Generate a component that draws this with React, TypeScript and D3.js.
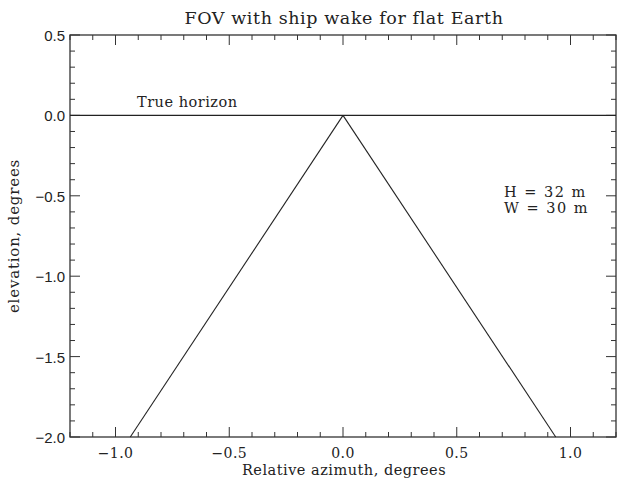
import React from 'react';
import * as d3 from 'd3';

const W = 617;
const H = 479;

// data
const xDomain = [-1.2, 1.2];
const yDomain = [-2.0, 0.5];
const xMajor = [-1.0, -0.5, 0.0, 0.5, 1.0];
const yMajor = [0.5, 0.0, -0.5, -1.0, -1.5, -2.0];
const wakeLeft = [{ az: 0, el: 0 }, { az: -0.935, el: -2.0 }];
const wakeRight = [{ az: 0, el: 0 }, { az: 0.935, el: -2.0 }];
const horizon = [{ az: -1.2, el: 0 }, { az: 1.2, el: 0 }];
const notes = ['H = 32 m', 'W = 30 m'];

const fmt = (v: number) => (v < 0 ? '\u2212' + Math.abs(v).toFixed(1) : v.toFixed(1));

const App = () => {
  const m = { left: 70, right: 616, top: 35, bottom: 437 };
  const x = d3.scaleLinear().domain(xDomain).range([m.left, m.right]);
  const y = d3.scaleLinear().domain(yDomain).range([m.bottom, m.top]);

  const line = d3.line<{ az: number; el: number }>()
    .x(d => x(d.az))
    .y(d => y(d.el));

  const xMinor = d3.range(-12, 13).map(i => i / 10).filter(v => !xMajor.some(t => Math.abs(t - v) < 1e-6));
  const yMinor = d3.range(-20, 6).map(i => i / 10).filter(v => !yMajor.some(t => Math.abs(t - v) < 1e-6));

  const serif = '"DejaVu Serif", serif';
  const sans = '"Liberation Sans", Arial, sans-serif';
  const stroke = '#333';

  return (
    <svg width={W} height={H} style={{ position: 'absolute', left: 0, top: 0, background: '#fff' }}>
      <text x={344} y={24} textAnchor="middle" fontFamily={serif} fontSize={17.5} letterSpacing={0.6} fill="#222">
        FOV with ship wake for flat Earth
      </text>

      {/* frame */}
      <rect x={m.left} y={m.top} width={m.right - m.left} height={m.bottom - m.top} fill="none" stroke={stroke} strokeWidth={1.3} />

      {/* x ticks */}
      {xMajor.map(v => (
        <g key={'xm' + v}>
          <line x1={x(v)} x2={x(v)} y1={m.bottom} y2={m.bottom - 10} stroke={stroke} />
          <line x1={x(v)} x2={x(v)} y1={m.top} y2={m.top + 10} stroke={stroke} />
          <text x={x(v)} y={m.bottom + 21} textAnchor="middle" fontFamily={serif} fontSize={14} letterSpacing={0.4} fill="#222">{fmt(v)}</text>
        </g>
      ))}
      {xMinor.map(v => (
        <g key={'xn' + v}>
          <line x1={x(v)} x2={x(v)} y1={m.bottom} y2={m.bottom - 5} stroke={stroke} />
          <line x1={x(v)} x2={x(v)} y1={m.top} y2={m.top + 5} stroke={stroke} />
        </g>
      ))}

      {/* y ticks */}
      {yMajor.map(v => (
        <g key={'ym' + v}>
          <line x1={m.left} x2={m.left + 10} y1={y(v)} y2={y(v)} stroke={stroke} />
          <line x1={m.right} x2={m.right - 10} y1={y(v)} y2={y(v)} stroke={stroke} />
          <text x={m.left - 5} y={y(v) + 6} textAnchor="end" fontFamily={sans} fontSize={15} fill="#222">{fmt(v)}</text>
        </g>
      ))}
      {yMinor.map(v => (
        <g key={'yn' + v}>
          <line x1={m.left} x2={m.left + 5} y1={y(v)} y2={y(v)} stroke={stroke} />
          <line x1={m.right} x2={m.right - 5} y1={y(v)} y2={y(v)} stroke={stroke} />
        </g>
      ))}

      {/* marks */}
      <path d={line(horizon) ?? ''} fill="none" stroke="#222" strokeWidth={1.2} />
      <path d={line(wakeLeft) ?? ''} fill="none" stroke="#222" strokeWidth={1.1} />
      <path d={line(wakeRight) ?? ''} fill="none" stroke="#222" strokeWidth={1.1} />

      <text x={137} y={y(0) - 8} fontFamily={serif} fontSize={14.5} letterSpacing={0.5} fill="#222">True horizon</text>
      {notes.map((t, i) => (
        <text key={t} x={504} y={197 + i * 16} fontFamily={serif} fontSize={14.5} letterSpacing={1.5} fill="#222" style={{ whiteSpace: 'pre' }}>{t}</text>
      ))}

      <text x={344} y={475} textAnchor="middle" fontFamily={serif} fontSize={14.5} letterSpacing={0.5} fill="#222">Relative azimuth, degrees</text>
      <text transform={`translate(19, ${(m.top + m.bottom) / 2}) rotate(-90)`} textAnchor="middle" fontFamily={serif} fontSize={15} letterSpacing={0.8} fill="#222">
        elevation, degrees
      </text>
    </svg>
  );
};

export default App;
